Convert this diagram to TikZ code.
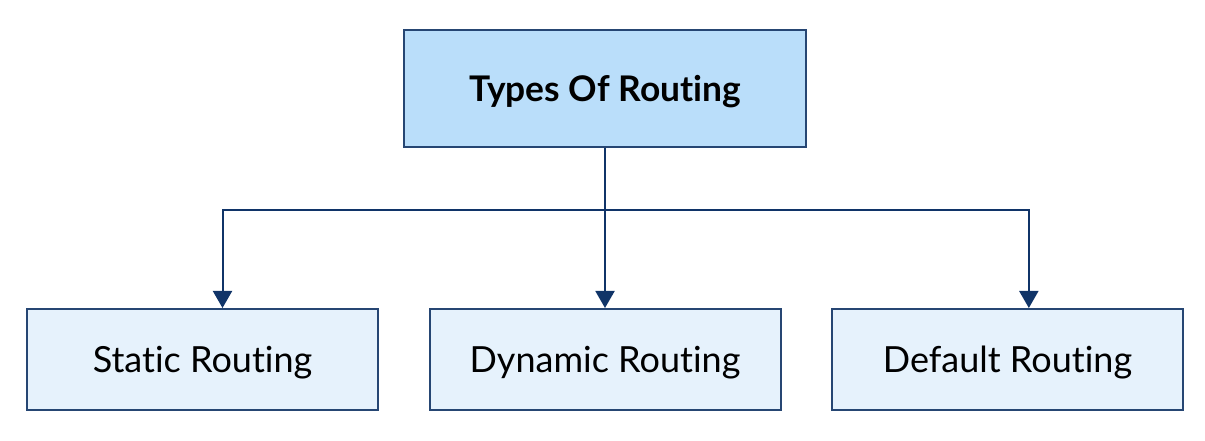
\documentclass[tikz,border=0pt]{standalone}
\usepackage{fontspec}
\setmainfont[Ligatures=NoCommon]{Lato}
\usetikzlibrary{arrows.meta}

\tikzset{
  headbox/.style={draw={rgb, 255:red, 38; green, 70; blue, 115}, line width=1.5pt,
    fill={rgb, 255:red, 186; green, 222; blue, 250}, minimum width=301.5pt, minimum height=87.75pt,
    inner sep=0pt, text depth=0pt, font=\bfseries\fontsize{26.5}{30}\selectfont},
  kindbox/.style={draw={rgb, 255:red, 38; green, 70; blue, 115}, line width=1.5pt,
    fill={rgb, 255:red, 230; green, 242; blue, 252}, minimum width=263.25pt, minimum height=75.75pt,
    inner sep=0pt, text depth=0pt, font=\fontsize{27}{31}\selectfont},
  link/.style={draw={rgb, 255:red, 16; green, 52; blue, 104}, line width=1.5pt},
  linkarrow/.style={link, -{Triangle[length=12.75pt, width=14.25pt]}}
}

\begin{document}
\begin{tikzpicture}[x=0.75pt,y=0.75pt,yscale=-1,xscale=1]
	\useasboundingbox (0,0) rectangle (1205,441);
	
	% Text Node
	\node [headbox] (types) at (605,88.3) {Types Of Routing};
	% Text Node
	\node [kindbox] (static) at (202.5,359.5) {Static Routing};
	% Text Node
	\node [kindbox] (dynamic) at (605,359.5) {Dynamic Routing};
	% Text Node
	\node [kindbox] (default) at (1007.5,359.5) {Default Routing};
	
	%Straight Lines
	\coordinate (fork) at (605,210);
	\draw [linkarrow] (types.south) -- (dynamic.north);
	\draw [linkarrow] (fork) -| ([xshift=15pt]static.north);
	\draw [linkarrow] (fork) -| ([xshift=16pt]default.north);
	
\end{tikzpicture}
\end{document}
